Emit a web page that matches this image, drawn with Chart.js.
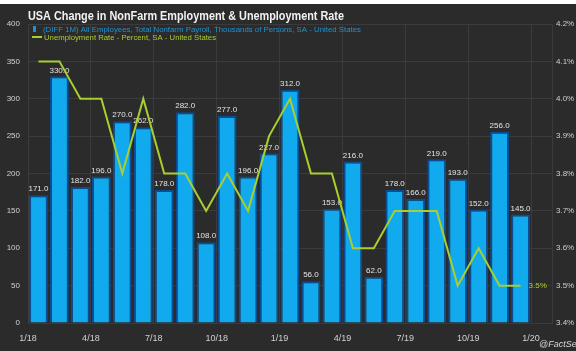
<!DOCTYPE html>
<html>
<head>
<meta charset="utf-8">
<script src="https://cdn.jsdelivr.net/npm/chart.js@4/dist/chart.umd.min.js"></script>
<style>
  body { margin: 0; background: #fff; }
  #wrap { position: absolute; left: 0; top: 4px; width: 576px; height: 347px; background: #2b2b2b; }
</style>
</head>
<body>
<div id="wrap"><canvas id="chart"></canvas></div>
<script>
// Nonfarm payroll change, thousands, Jan 2018 - Dec 2019
const payrolls = [171, 330, 182, 196, 270, 262, 178, 282, 108, 277, 196, 227,
                  312, 56, 153, 216, 62, 178, 166, 219, 193, 152, 256, 145];
// Unemployment rate, percent
const unemployment = [4.1, 4.1, 4.0, 4.0, 3.8, 4.0, 3.8, 3.8, 3.7, 3.8, 3.7, 3.9,
                      4.0, 3.8, 3.8, 3.6, 3.6, 3.7, 3.7, 3.7, 3.5, 3.6, 3.5, 3.5];
// quarter ticks on the month axis (0 = start of Jan 2018)
const tickPos = [0, 3, 6, 9, 12, 15, 18, 21, 24];
const tickLabels = ['1/18', '4/18', '7/18', '10/18', '1/19', '4/19', '7/19', '10/19', '1/20'];

const titleText = 'USA Change in NonFarm Employment & Unemployment Rate';
const legendBars = '(DIFF 1M) All Employees, Total Nonfarm Payroll, Thousands of Persons, SA - United States';
const legendLine = 'Unemployment Rate - Percent, SA - United States';

const BLUE = '#12aaee';
const GREEN = '#a9cf2e';
const GRID = '#3b3b3b';
const FONT = '"Liberation Sans", Arial, sans-serif';

// labels on top of bars, drawn before the line goes over them
const barLabels = {
    id: 'barLabels',
    afterDatasetDraw(chart, args) {
        if (args.index !== 0) return;
        const ctx = chart.ctx;
        ctx.save();
        ctx.font = '8px ' + FONT;
        ctx.fillStyle = '#e4e4e4';
        ctx.textAlign = 'center';
        ctx.textBaseline = 'bottom';
        args.meta.data.forEach((bar, i) => {
            ctx.fillText(payrolls[i].toFixed(1), bar.x, bar.y - 2);
        });
        ctx.restore();
    }
};

// title, legend, last value and source note
const overlay = {
    id: 'overlay',
    afterDraw(chart) {
        const ctx = chart.ctx;
        ctx.save();
        ctx.textBaseline = 'alphabetic';
        ctx.textAlign = 'left';

        ctx.fillStyle = '#f2f2f2';
        ctx.font = 'bold 13px ' + FONT;
        ctx.fillText(titleText, 28, 16, 316);

        ctx.fillStyle = '#1d93d6';
        ctx.font = '8px ' + FONT;
        ctx.fillRect(33, 22, 3, 6);
        ctx.fillText(legendBars, 43, 28, 318);

        ctx.strokeStyle = GREEN;
        ctx.lineWidth = 2;
        ctx.beginPath();
        ctx.moveTo(32, 33);
        ctx.lineTo(42, 33);
        ctx.stroke();
        ctx.fillStyle = GREEN;
        ctx.fillText(legendLine, 44, 36, 172);

        const pts = chart.getDatasetMeta(1).data;
        const last = pts[pts.length - 1];
        ctx.font = '8px ' + FONT;
        ctx.textBaseline = 'middle';
        ctx.fillText(unemployment[unemployment.length - 1].toFixed(1) + '%', last.x + 8, last.y);

        ctx.fillStyle = '#d8d8d8';
        ctx.font = 'italic 9px ' + FONT;
        ctx.textBaseline = 'alphabetic';
        ctx.fillText('@FactSet', 539, 343);
        ctx.restore();
    }
};

const chart = new Chart(document.getElementById('chart'), {
    type: 'bar',
    data: {
        datasets: [{
            type: 'bar',
            data: payrolls.map((v, i) => ({ x: i + 0.5, y: v })),
            backgroundColor: BLUE,
            borderColor: '#0b4c92',
            borderWidth: 2,
            borderSkipped: 'start',
            categoryPercentage: 1,
            barPercentage: 0.9,
            yAxisID: 'y',
            order: 1
        }, {
            type: 'line',
            data: unemployment.map((v, i) => ({ x: i + 0.5, y: v })),
            borderColor: GREEN,
            borderWidth: 2,
            pointRadius: 0,
            tension: 0,
            yAxisID: 'y1',
            order: 0
        }]
    },
    options: {
        responsive: true,
        maintainAspectRatio: false,
        animation: false,
        layout: { padding: { top: 20, left: 0, right: 0, bottom: 0 } },
        plugins: {
            legend: { display: false },
            tooltip: { enabled: false }
        },
        scales: {
            x: {
                type: 'linear',
                min: 0,
                max: 25,
                offset: false,
                afterBuildTicks: axis => { axis.ticks = tickPos.map(v => ({ value: v })); },
                afterFit: s => { s.height = 28; },
                ticks: {
                    color: '#d0d0d0',
                    font: { size: 9, family: FONT },
                    padding: 10,
                    maxRotation: 0,
                    callback: v => tickLabels[tickPos.indexOf(v)]
                },
                grid: { color: GRID, drawTicks: false, offset: false },
                border: { display: false }
            },
            y: {
                position: 'left',
                min: 0,
                max: 400,
                afterFit: s => { s.width = 28; },
                ticks: {
                    stepSize: 50,
                    color: '#d0d0d0',
                    font: { size: 8, family: FONT },
                    padding: 8
                },
                grid: { color: GRID, drawTicks: false },
                border: { display: false }
            },
            y1: {
                position: 'right',
                min: 3.4,
                max: 4.2,
                afterFit: s => { s.width = 24; },
                ticks: {
                    stepSize: 0.1,
                    color: '#d0d0d0',
                    font: { size: 8, family: FONT },
                    padding: 4,
                    callback: v => v.toFixed(1) + '%'
                },
                grid: { drawOnChartArea: false, drawTicks: false },
                border: { display: true, color: GRID }
            }
        }
    },
    plugins: [barLabels, overlay]
});
</script>
</body>
</html>
